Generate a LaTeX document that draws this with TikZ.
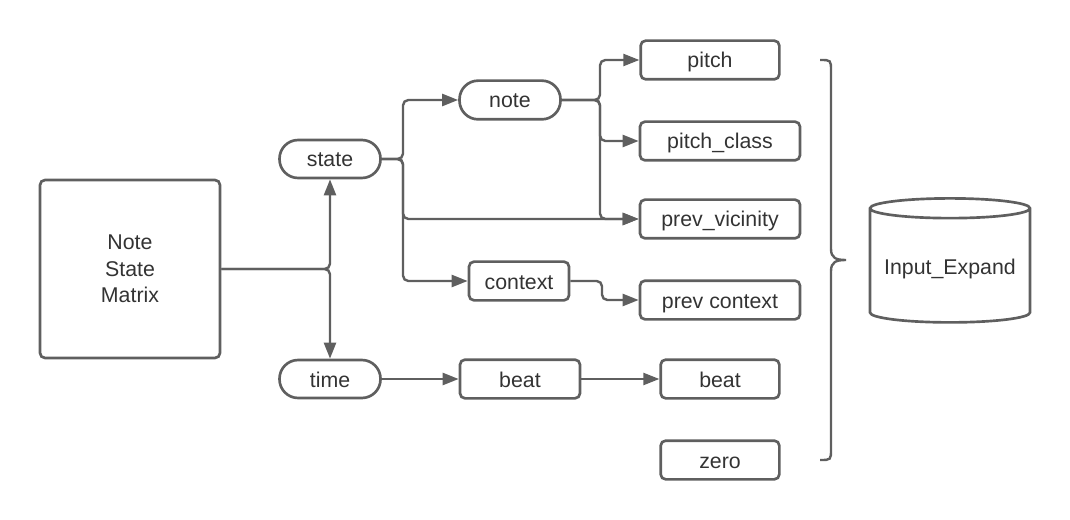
\documentclass[tikz,border=0pt]{standalone}
\usepackage{fontspec}
\setmainfont{Liberation Sans}
\usepackage{tikz}
\usetikzlibrary{arrows.meta,shapes.geometric}

\definecolor{linegray}{RGB}{95,95,95}
\definecolor{textgray}{RGB}{51,51,51}

\begin{document}
\begin{tikzpicture}[x=0.75pt,y=-0.75pt]
    \tikzstyle{block} = [rectangle, draw=linegray, line width=2pt, rounded corners=3.75pt, text=textgray, font=\fontsize{16}{20}\selectfont, inner sep=0pt]
    \tikzstyle{box} = [block, minimum height=29pt, text height=12pt, text depth=-2pt]
    \tikzstyle{pill} = [box, rounded corners=14pt, minimum width=75.75pt, minimum height=28.5pt]
    \tikzstyle{link} = [draw=linegray, line width=1.8pt, rounded corners=4pt, -{Triangle[length=12pt,width=9pt]}]

    \useasboundingbox (0,0) rectangle (1070,520);

    % Source
    \node[block, minimum width=135pt, minimum height=133.5pt, align=center] (matrix) at (130,269) {Note\\State\\Matrix};

    % First level
    \node[pill] (state) at (330,159) {state};
    \node[pill] (time) at (330,379) {time};

    % Second level
    \node[pill, minimum height=29pt] (note) at (510,100) {note};
    \node[box, minimum width=75pt] (context) at (519,281) {context};
    \node[box, minimum width=90pt] (beatin) at (520,379) {beat};

    % Features
    \node[box, minimum width=104pt] (pitch) at (710,60) {pitch};
    \node[box, minimum width=120pt] (pitchclass) at (720,141) {pitch\_class};
    \node[box, minimum width=120pt] (prevvic) at (720,219) {prev\_vicinity};
    \node[box, minimum width=120pt] (prevctx) at (720,300) {prev context};
    \node[box, minimum width=89pt] (beatout) at (720,379) {beat};
    \node[box, minimum width=89pt] (zero) at (720,460) {zero};

    % Output
    \node[cylinder, shape border rotate=90, aspect=0.15, draw=linegray, line width=2pt, text=textgray, font=\fontsize{16}{20}\selectfont, minimum width=120pt, minimum height=93pt, inner sep=0pt, text height=12pt, text depth=-3.5pt] (store) at (950,266) {Input\_Expand};

    % Forks
    \coordinate (statefork) at (403,159);
    \coordinate (notefork) at (600,100);
    \coordinate (contextfork) at (602,281);

    \draw[link] (matrix.east) -| (state.south);
    \draw[link] (matrix.east) -| (time.north);

    \draw[link] (state.east) -- (statefork) |- (note.west);
    \draw[link] (state.east) -- (statefork) |- (prevvic.west);
    \draw[link] (state.east) -- (statefork) |- (context.west);

    \draw[link] (note.east) -- (notefork) |- (pitch.west);
    \draw[link] (note.east) -- (notefork) |- (pitchclass.west);
    \draw[link] (note.east) -- (notefork) |- (prevvic.west);

    \draw[link] (context.east) -- (contextfork) |- (prevctx.west);

    \draw[link] (time.east) -- (beatin.west);
    \draw[link] (beatin.east) -- (beatout.west);

    % Brace
    \draw[linegray, line width=1.8pt] (820,60) .. controls (831,60) .. (831,71) -- (831,249)
        .. controls (831,258) and (836,260) .. (846,260)
        .. controls (836,260) and (831,262) .. (831,271) -- (831,449)
        .. controls (831,460) .. (820,460);
\end{tikzpicture}
\end{document}
